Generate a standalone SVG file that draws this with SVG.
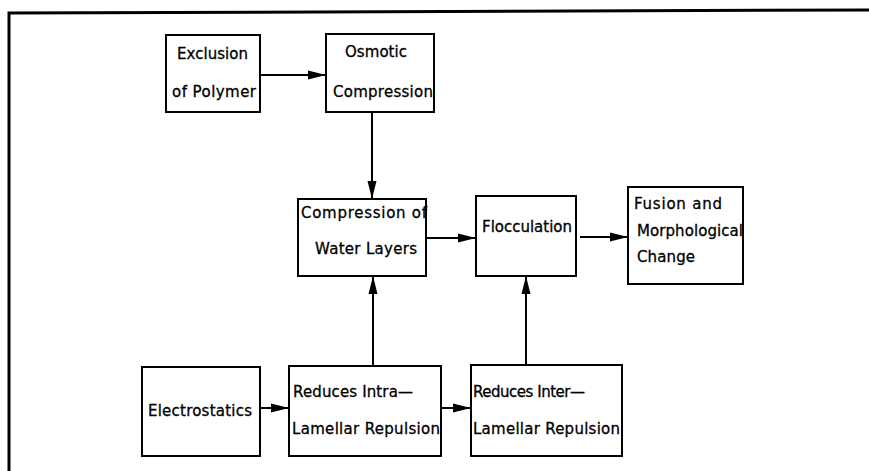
<svg xmlns="http://www.w3.org/2000/svg" width="869" height="471" viewBox="0 0 869 471">
  <defs>
    <marker id="arrow" viewBox="0 0 18 10" refX="18" refY="5" markerWidth="18" markerHeight="10" markerUnits="userSpaceOnUse" orient="auto">
      <path d="M0,0.5 L18,5 L0,9.5 Z" fill="#000"/>
    </marker>
    <style>
      rect { fill: #fff; stroke: #000; stroke-width: 2; }
      .link { stroke: #000; stroke-width: 2; fill: none; marker-end: url(#arrow); }
      text { font-family: "DejaVu Sans", "Liberation Sans", sans-serif; font-size: 15px; fill: #000; stroke: #000; stroke-width: 0.3; }
    </style>
  </defs>

  <rect width="869" height="471" style="fill:#fff;stroke:none"/>
  <!-- outer frame: top and left edges only -->
  <path d="M9,471 L9,13 L869,10" fill="none" stroke="#000" stroke-width="3"/>

  <g id="connectors">
    <line class="link" x1="260" y1="75" x2="326" y2="75"/>
    <line class="link" x1="372" y1="112" x2="372" y2="199"/>
    <line class="link" x1="426" y1="238" x2="476" y2="238"/>
    <line class="link" x1="580" y1="237" x2="628" y2="237"/>
    <line class="link" x1="260" y1="408" x2="289" y2="408"/>
    <line class="link" x1="441" y1="408" x2="471" y2="408"/>
    <line class="link" x1="373" y1="366" x2="373" y2="276"/>
    <line class="link" x1="526" y1="365" x2="526" y2="276"/>
  </g>

  <g id="exclusion">
    <rect x="166" y="35" width="94" height="77"/>
    <text x="177" y="59" textLength="71">Exclusion</text>
    <text x="172" y="97" textLength="84">of Polymer</text>
  </g>

  <g id="osmotic">
    <rect x="326" y="34" width="108" height="78"/>
    <text x="345" y="57" textLength="62">Osmotic</text>
    <text x="333" y="97" textLength="100">Compression</text>
  </g>

  <g id="compression-water">
    <rect x="298" y="199" width="128" height="77"/>
    <text x="301" y="218" textLength="126">Compression of</text>
    <text x="315" y="254" textLength="102">Water Layers</text>
  </g>

  <g id="flocculation">
    <rect x="476" y="196" width="100" height="80"/>
    <text x="482" y="232" textLength="90">Flocculation</text>
  </g>

  <g id="fusion">
    <rect x="628" y="187" width="115" height="97"/>
    <text x="634" y="209" textLength="88">Fusion and</text>
    <text x="637" y="236" textLength="106">Morphological</text>
    <text x="637" y="262" textLength="58">Change</text>
  </g>

  <g id="electrostatics">
    <rect x="142" y="367" width="118" height="89"/>
    <text x="148" y="416" textLength="104">Electrostatics</text>
  </g>

  <g id="intra">
    <rect x="289" y="366" width="152" height="90"/>
    <text x="293" y="397" textLength="120">Reduces Intra—</text>
    <text x="292" y="434" textLength="148">Lamellar Repulsion</text>
  </g>

  <g id="inter">
    <rect x="471" y="365" width="151" height="91"/>
    <text x="473" y="397" textLength="112">Reduces Inter—</text>
    <text x="473" y="434" textLength="147">Lamellar Repulsion</text>
  </g>
</svg>
